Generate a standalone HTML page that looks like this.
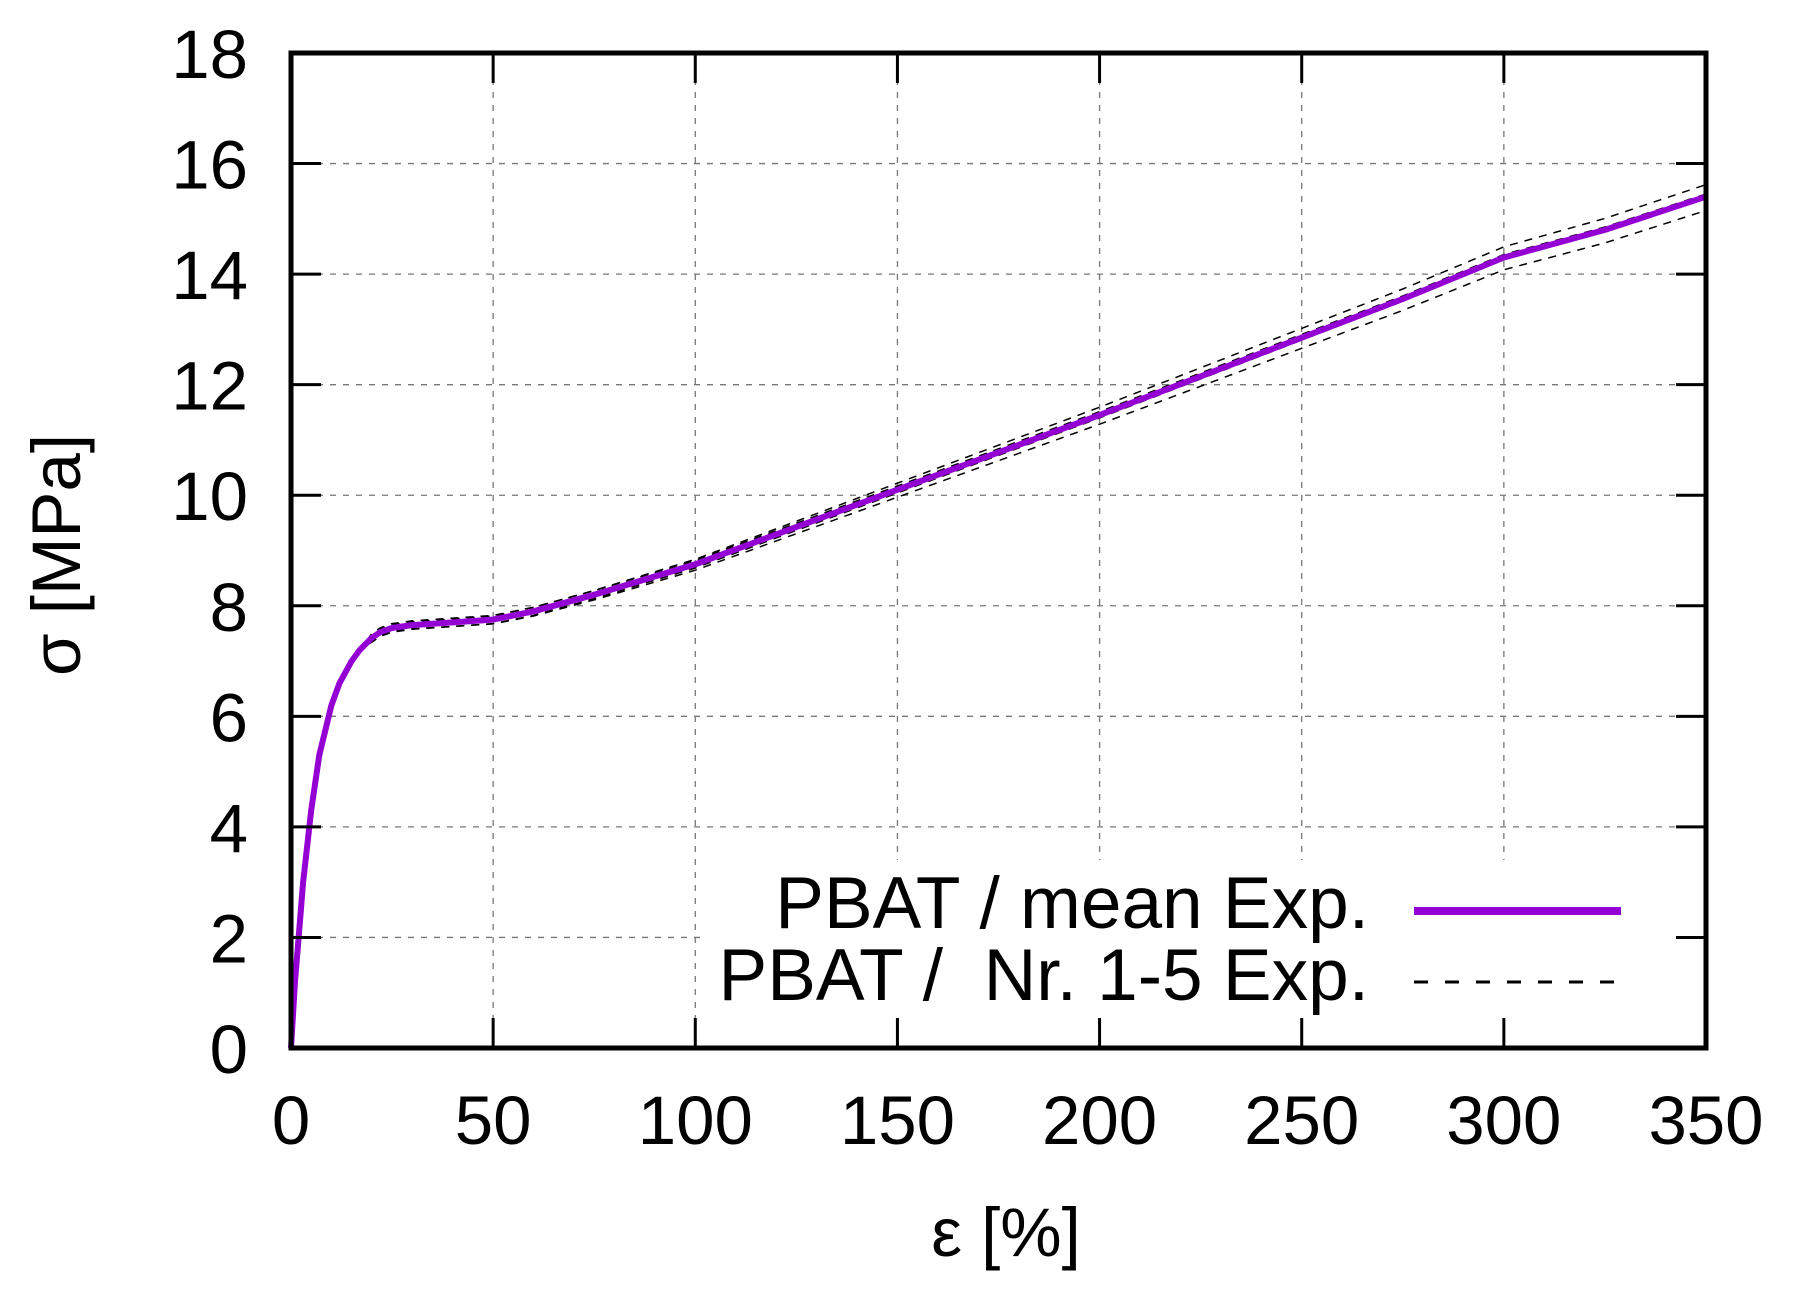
<!DOCTYPE html>
<html><head><style>body{margin:0;background:#fff}svg{display:block}</style></head>
<body>
<svg id="s" width="1794" height="1296" xmlns="http://www.w3.org/2000/svg" font-family="Liberation Sans, sans-serif">
<rect width="1794" height="1296" fill="#fff"/>
<g id="grid" stroke="#777" stroke-width="1.3" stroke-dasharray="6,7"></g>
<rect x="700" y="860" width="1003" height="186" fill="#fff"/>
<g id="curves" fill="none"></g>
<rect x="291" y="53" width="1415" height="995" fill="none" stroke="#000" stroke-width="5"/>
<g id="ticks" stroke="#000" stroke-width="3"></g>
<g id="labels" font-size="69" fill="#000"></g>
<text x="1369" y="928" font-size="73" text-anchor="end">PBAT / mean Exp.</text>
<text x="1369" y="1000" font-size="73" text-anchor="end" xml:space="preserve">PBAT /  Nr. 1-5 Exp.</text>
<line x1="1414" y1="911" x2="1621" y2="911" stroke="#9400d3" stroke-width="8"/>
<line x1="1414" y1="982" x2="1621" y2="982" stroke="#000" stroke-width="3" stroke-dasharray="14,17"/>
<text x="1006" y="1256" font-size="69" text-anchor="middle">ε [%]</text>
<text transform="translate(80,555) rotate(-90)" font-size="69" text-anchor="middle">σ [MPa]</text>
</svg>
<script>
const NS="http://www.w3.org/2000/svg";
const X=e=>291+e*1415/350, Y=s=>1048-s*995/18;
function el(p,t,a,txt){const e=document.createElementNS(NS,t);for(const k in a)e.setAttribute(k,a[k]);if(txt!==undefined)e.textContent=txt;document.getElementById(p).appendChild(e);}
for(let e=0;e<=350;e+=50){
 if(e>0&&e<350) el("grid","line",{x1:X(e),y1:53,x2:X(e),y2:1048});
 el("ticks","line",{x1:X(e),y1:1048,x2:X(e),y2:1018});
 el("ticks","line",{x1:X(e),y1:53,x2:X(e),y2:83});
 el("labels","text",{x:X(e),y:1144,"text-anchor":"middle"},String(e));
}
for(let s=0;s<=18;s+=2){
 if(s>0&&s<18) el("grid","line",{x1:291,y1:Y(s),x2:1706,y2:Y(s)});
 el("ticks","line",{x1:291,y1:Y(s),x2:321,y2:Y(s)});
 el("ticks","line",{x1:1706,y1:Y(s),x2:1676,y2:Y(s)});
 el("labels","text",{x:248,y:Y(s)+25,"text-anchor":"end"},String(s));
}
const d=[[0,0],[1,1.2],[2,2.1],[3,3],[5,4.3],[7,5.3],[10,6.2],[12,6.6],[15,7.0],[17,7.2],[20,7.42],[22,7.52],[25,7.6],[30,7.65],[40,7.7],[50,7.75],[60,7.9],[75,8.2],[100,8.75],[150,10.1],[200,11.45],[250,12.85],[275,13.55],[300,14.3],[325,14.8],[350,15.4]];
function path(f){return "M"+d.map(([e,s])=>X(e).toFixed(1)+","+Y(f(e,s)).toFixed(1)).join("L");}
const offs=[[0.08,-0.03],[-0.08,0.05],[0.04,0.18],[-0.05,-0.2],[0,0]];
offs.forEach(([a,b],i)=>{el("curves","path",{d:path((e,s)=>e<20?s:s+a+b*e/350),stroke:"#000","stroke-width":i==4?3:1.5,"stroke-dasharray":"8,7"});});
el("curves","path",{d:path((e,s)=>s),stroke:"#9400d3","stroke-width":6,"stroke-linejoin":"round"});
</script>
</body></html>
